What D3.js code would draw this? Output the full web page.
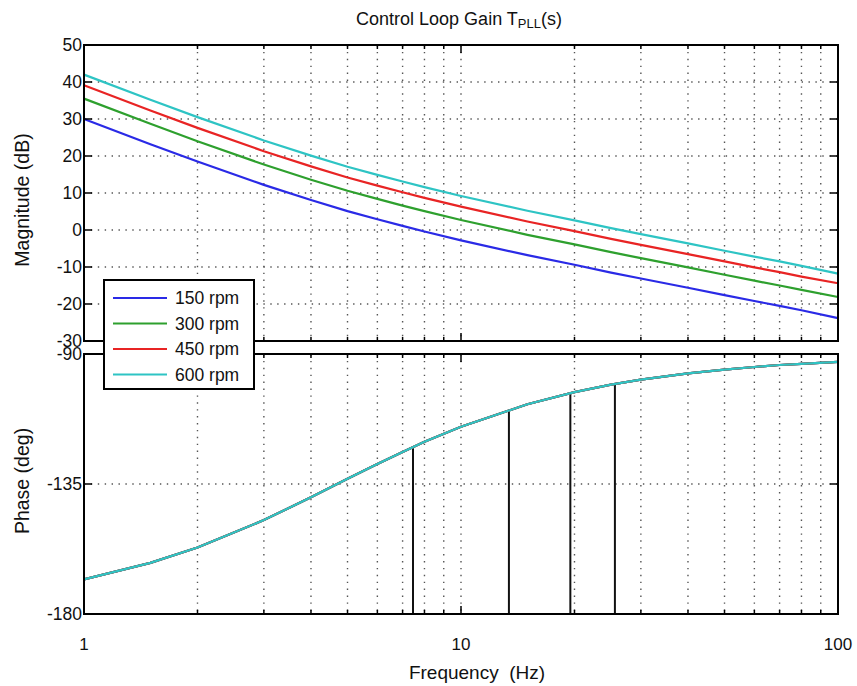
<!DOCTYPE html>
<html><head><meta charset="utf-8">
<script src="https://cdn.jsdelivr.net/npm/d3@7"></script>
<style>body{margin:0;background:#fff}text{font-family:"Liberation Sans",Arial,sans-serif;fill:#111}</style>
</head><body><svg id="c" width="857" height="686"></svg>
<script>
const freqs = [1,1.5,2,3,4,5,6,7,8,10,15,20,25,30,40,50,60,70,80,100];
const mag150 = [30.0,23.2,18.5,12.2,8.1,5.1,2.9,1.1,-0.4,-2.8,-6.8,-9.4,-11.5,-13.1,-15.6,-17.6,-19.2,-20.5,-21.7,-23.8];
const mag300 = [35.5,28.7,24.0,17.7,13.6,10.6,8.4,6.6,5.1,2.7,-1.3,-3.9,-6.0,-7.6,-10.1,-12.1,-13.7,-15.0,-16.2,-18.1];
const mag450 = [39.1,32.3,27.6,21.3,17.2,14.2,12.0,10.2,8.7,6.3,2.3,-0.3,-2.4,-4.0,-6.5,-8.5,-10.1,-11.4,-12.6,-14.4];
const mag600 = [42.0,35.2,30.5,24.2,20.1,17.1,14.9,13.1,11.6,9.2,5.2,2.6,0.5,-1.1,-3.6,-5.6,-7.2,-8.5,-9.7,-11.8];
const phase = [-168.0,-162.3,-157.0,-147.5,-139.6,-133.2,-128.1,-123.9,-120.4,-115.2,-107.4,-103.2,-100.6,-98.9,-96.7,-95.4,-94.5,-93.8,-93.4,-92.7];
const seriesNames = ["150 rpm","300 rpm","450 rpm","600 rpm"];
const seriesColors = ["#2a2ae6","#2ea02e","#e82424","#2ec4c4"];
const crossFreq = [7.46, 13.4, 19.5, 25.6];
const crossPhase = [-122.6, -109.4, -103.6, -100.4];
const magTicks = [50,40,30,20,10,0,-10,-20,-30];
const phaseTicks = [-90,-135,-180];
const xLabels = [1,10,100];

const svg = d3.select("#c");
const L = 84, R = 838;
const x = d3.scaleLog().domain([1,100]).range([L,R]);
const yM = d3.scaleLinear().domain([-30,50]).range([341,45]);
const yP = d3.scaleLinear().domain([-180,-90]).range([614,354]);
const minor = [];
[1,10].forEach(d=>{for(let k=2;k<=9;k++)minor.push(d*k);});
const mags = [mag150,mag300,mag450,mag600];

function panel(y, ticks){
  const [y0,y1] = y.range();
  const g = svg.append("g");
  g.selectAll(null).data(minor.concat([10])).enter().append("line")
    .attr("x1",d=>x(d)).attr("x2",d=>x(d)).attr("y1",y1).attr("y2",y0)
    .attr("stroke","#555").attr("stroke-width",1.4).attr("stroke-dasharray","1.4,5.5");
  g.selectAll(null).data(ticks.slice(1,-1)).enter().append("line")
    .attr("x1",L).attr("x2",R).attr("y1",d=>y(d)).attr("y2",d=>y(d))
    .attr("stroke","#555").attr("stroke-width",1.4).attr("stroke-dasharray","1.4,5.5");
  return g;
}
function frame(y, ticks){
  const [y0,y1] = y.range();
  const g = svg.append("g");
  g.append("rect").attr("x",L).attr("y",y1).attr("width",R-L).attr("height",y0-y1)
    .attr("fill","none").attr("stroke","#000").attr("stroke-width",2);
  [[minor,4],[xLabels,8]].forEach(([arr,len])=>{
    g.selectAll(null).data(arr).enter().append("line")
      .attr("x1",d=>x(d)).attr("x2",d=>x(d)).attr("y1",y0).attr("y2",y0-len).attr("stroke","#000").attr("stroke-width",1.5);
    g.selectAll(null).data(arr).enter().append("line")
      .attr("x1",d=>x(d)).attr("x2",d=>x(d)).attr("y1",y1).attr("y2",y1+len).attr("stroke","#000").attr("stroke-width",1.5);
  });
  g.selectAll(null).data(ticks).enter().append("line")
    .attr("x1",L).attr("x2",L+8).attr("y1",d=>y(d)).attr("y2",d=>y(d)).attr("stroke","#000").attr("stroke-width",1.5);
  g.selectAll(null).data(ticks).enter().append("line")
    .attr("x1",R).attr("x2",R-8).attr("y1",d=>y(d)).attr("y2",d=>y(d)).attr("stroke","#000").attr("stroke-width",1.5);
  g.selectAll(null).data(ticks).enter().append("text")
    .attr("x",L-2).attr("y",d=>y(d)).attr("dy","0.36em").attr("text-anchor","end")
    .attr("font-size",17.5).text(d=>d);
}

panel(yM, magTicks);
panel(yP, phaseTicks);

const line = (yS, arr) => d3.line().x((d,i)=>x(freqs[i])).y(d=>yS(d))(arr);
mags.forEach((m,i)=>{
  svg.append("path").attr("d",line(yM,m)).attr("fill","none").attr("stroke",seriesColors[i]).attr("stroke-width",2.2);
});
crossFreq.forEach((f,i)=>{
  svg.append("line").attr("x1",x(f)).attr("x2",x(f)).attr("y1",yP(-180)).attr("y2",yP(crossPhase[i]))
    .attr("stroke","#111").attr("stroke-width",2);
});
seriesColors.forEach((c,i)=>{
  svg.append("path").attr("d",line(yP,phase)).attr("fill","none").attr("stroke",c).attr("stroke-width",2.2);
});

frame(yM, magTicks);
frame(yP, phaseTicks);

svg.selectAll(null).data(xLabels).enter().append("text")
  .attr("x",d=>x(d)).attr("y",650).attr("text-anchor","middle").attr("font-size",17).text(d=>d);
svg.append("text").attr("x",477).attr("y",679).attr("text-anchor","middle").attr("font-size",19).text("Frequency\u00a0\u00a0(Hz)");
svg.append("text").attr("transform","translate(29,200) rotate(-90)").attr("text-anchor","middle").attr("font-size",19.5).text("Magnitude (dB)");
svg.append("text").attr("transform","translate(29,481) rotate(-90)").attr("text-anchor","middle").attr("font-size",19.5).text("Phase (deg)");
const t = svg.append("text").attr("x",459).attr("y",25).attr("text-anchor","middle").attr("font-size",18);
t.append("tspan").text("Control Loop Gain T");
t.append("tspan").attr("font-size",13).attr("dy",3).text("PLL");
t.append("tspan").attr("dy",-3).text("(s)");

const lg = svg.append("g");
lg.append("rect").attr("x",104).attr("y",280).attr("width",150).attr("height",109)
  .attr("fill","#fff").attr("stroke","#000").attr("stroke-width",2);
seriesNames.forEach((n,i)=>{
  const yy = 298 + i*25.5;
  lg.append("line").attr("x1",113).attr("x2",167).attr("y1",yy).attr("y2",yy).attr("stroke",seriesColors[i]).attr("stroke-width",2.2);
  lg.append("text").attr("x",175).attr("y",yy).attr("dy","0.36em").attr("font-size",17.5).text(n);
});
</script></body></html>
